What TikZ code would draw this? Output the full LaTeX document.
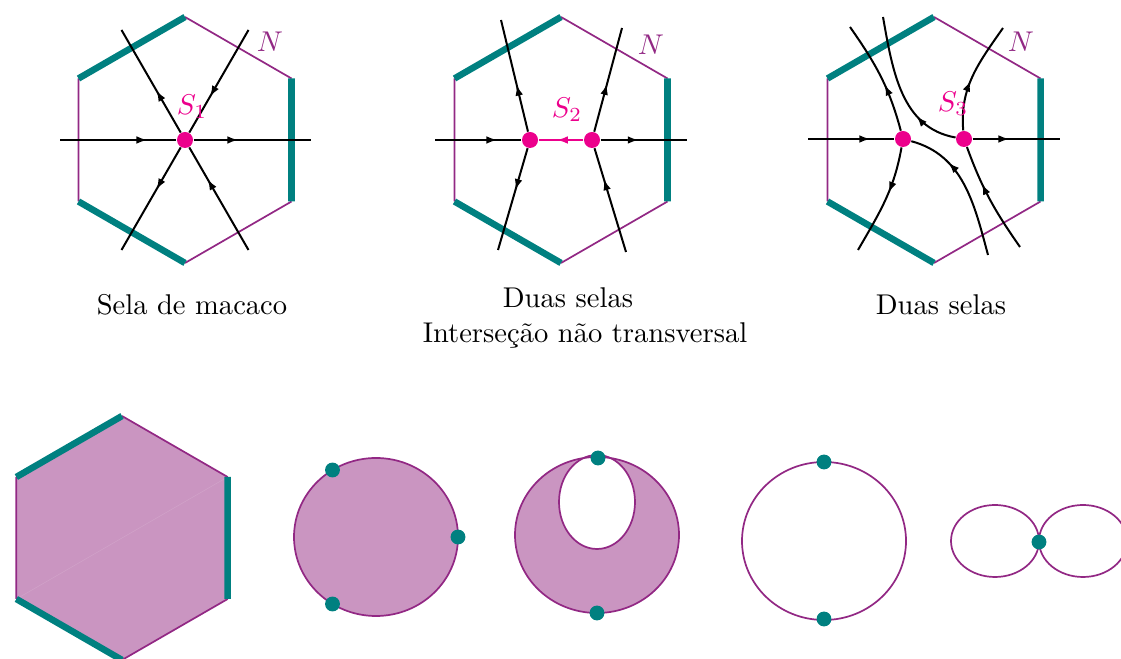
\documentclass[tikz,border=0pt]{standalone}
\usetikzlibrary{arrows.meta,decorations.markings,positioning}
\definecolor{verde}{RGB}{0,128,128}
\definecolor{roxo}{RGB}{146,40,132}
\definecolor{rosa}{RGB}{236,0,140}
\definecolor{lilas}{RGB}{202,149,193}
\tikzset{
  borda/.style={roxo,line width=0.6pt},
  saida/.style={verde,line width=2.3pt},
  orbita/.style={black,line width=0.7pt},
  seta/.style={postaction={decorate},decoration={markings,
      mark=at position #1 with {\arrow{Latex[length=3.8pt,width=2.7pt]}}}},
  sela/.style={circle,fill=rosa,inner sep=0pt,minimum size=5.6pt},
  ponto/.style={circle,fill=verde,inner sep=0pt,minimum size=5.2pt},
}

\begin{document}
\begin{tikzpicture}[x=0.35pt,y=0.35pt,line join=round]
  \useasboundingbox (0,0) rectangle (1121,659);
  % hexagonos de cima e de baixo
  \foreach \nome/\cx/\cy/\r in {h1/185/519/123,h2/561/519/123,h3/934/519/123,h4/122/121/122}{
    \begin{scope}[shift={(\cx,\cy)}]
      \foreach \k/\ang in {1/90,2/30,3/-30,4/-90,5/-150,6/150}
        \coordinate (\nome-\k) at (\ang:\r);
    \end{scope}
  }
  \fill[lilas] (h4-1)--(h4-2)--(h4-3)--(h4-4)--(h4-5)--(h4-6)--cycle;
  \draw[white,opacity=0.12,line width=0.2pt] (h4-5)--(h4-2);
  \foreach \nome in {h1,h2,h3,h4}{
    \draw[borda] (\nome-1)--(\nome-2) (\nome-3)--(\nome-4) (\nome-5)--(\nome-6);
    \draw[saida] (\nome-6)--(\nome-1) (\nome-2)--(\nome-3) (\nome-4)--(\nome-5);
  }
  \node[roxo] (N1) at (270,617) {$N$};
  \node[roxo] (N2) at (651,614) {$N$};
  \node[roxo] (N3) at (1021,617) {$N$};

  % sela de macaco
  \node[sela] (S1) at (185,519) {};
  \coordinate (a1) at (60,519);
  \coordinate (a2) at (311,519);
  \coordinate (a3) at (121.5,629);
  \coordinate (a4) at (248.5,629);
  \coordinate (a5) at (121.5,409);
  \coordinate (a6) at (248.5,409);
  \draw[orbita,seta=0.75] (a1) -- (S1);
  \draw[orbita,seta=0.38] (S1) -- (a2);
  \draw[orbita,seta=0.41] (S1) -- (a3);
  \draw[orbita,seta=0.65] (a4) -- (S1);
  \draw[orbita,seta=0.41] (S1) -- (a5);
  \draw[orbita,seta=0.69] (a6) -- (S1);
  \node[rosa] (l1) at (192,552) {$S_1$};

  % duas selas, intersecao nao transversal
  \node[sela] (A) at (530,519) {};
  \node[sela] (B) at (592,519) {};
  \coordinate (b1) at (435,519);
  \coordinate (b2) at (687,519);
  \coordinate (b3) at (501,639);
  \coordinate (b4) at (498,409);
  \coordinate (b5) at (622,631);
  \coordinate (b6) at (626,407);
  \draw[orbita,seta=0.72] (b1) -- (A);
  \draw[rosa,line width=0.7pt,seta=0.59] (B) -- (A);
  \draw[orbita,seta=0.44] (B) -- (b2);
  \draw[orbita,seta=0.42] (A) -- (b3);
  \draw[orbita,seta=0.41] (A) -- (b4);
  \draw[orbita,seta=0.46] (B) -- (b5);
  \draw[orbita,seta=0.70] (b6) -- (B);
  \node[rosa] (l2) at (567,549) {$S_2$};

  % duas selas
  \node[sela] (C) at (903,520) {};
  \node[sela] (D) at (964,520) {};
  \coordinate (c1) at (808,520);
  \coordinate (c2) at (1060,520);
  \coordinate (c3) at (850,632);
  \coordinate (c4) at (858,409);
  \coordinate (c5) at (1003,631);
  \coordinate (c6) at (1020,412);
  \coordinate (c7) at (883,642);
  \coordinate (c8) at (988,404);
  \draw[orbita,seta=0.72] (c1) -- (C);
  \draw[orbita,seta=0.42] (D) -- (c2);
  \draw[orbita,seta=0.42] (C) to[out=105,in=-55] (c3);
  \draw[orbita,seta=0.42] (C) to[out=-100,in=60] (c4);
  \draw[orbita,seta=0.45] (D) to[out=95,in=-125] (c5);
  \draw[orbita,seta=0.65] (c6) to[out=125,in=-70] (D);
  \draw[orbita,seta=0.30] (D) to[out=170,in=-80] (c7);
  \draw[orbita,seta=0.70] (c8) to[out=105,in=-15] (C);
  \node[rosa] (l3) at (953,555) {$S_3$};

  % legendas
  \node (t1) at (192,354) {Sela de macaco};
  \node (t2) at (568,361) {Duas selas};
  \node (t3) at (585,324) {Interseção não transversal};
  \node (t4) at (941,354) {Duas selas};

  % superficies de baixo
  \draw[borda,fill=lilas] (376,122) ellipse [x radius=82,y radius=79];
  \node[ponto] (p1) at (332.5,189) {};
  \node[ponto] (p2) at (458,122) {};
  \node[ponto] (p3) at (332.5,55) {};

  \fill[lilas,even odd rule] (597,124) ellipse [x radius=82,y radius=78]
    (597,157) ellipse [x radius=38,y radius=47];
  \draw[borda] (597,124) ellipse [x radius=82,y radius=78];
  \draw[borda] (597,157) ellipse [x radius=38,y radius=47];
  \node[ponto] (p4) at (598,201) {};
  \node[ponto] (p5) at (597,46) {};

  \draw[borda] (824,118) ellipse [x radius=82,y radius=79];
  \node[ponto] (p6) at (824,197) {};
  \node[ponto] (p7) at (824,40) {};

  \draw[borda] (995,118) ellipse [x radius=44,y radius=36];
  \draw[borda] (1083,118) ellipse [x radius=44,y radius=36];
  \node[ponto] (p8) at (1039,117) {};
\end{tikzpicture}
\end{document}
